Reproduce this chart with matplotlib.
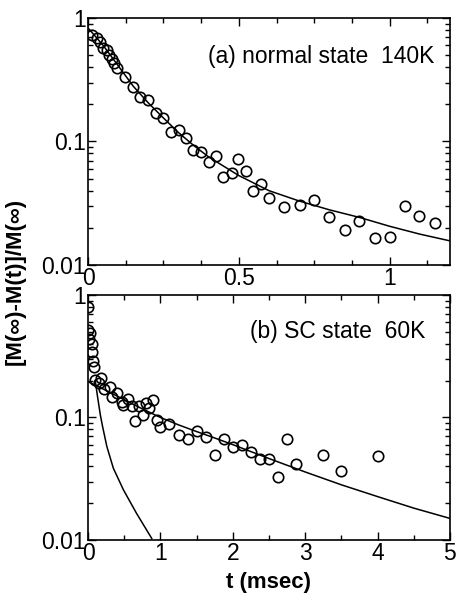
import matplotlib
matplotlib.use("Agg")
import matplotlib.pyplot as plt
from matplotlib.ticker import FixedLocator, MultipleLocator, LogLocator, NullFormatter

plt.rcParams["font.family"] = ["Liberation Sans", "DejaVu Sans"]

# (a) normal state 140K : data points
t_a = [0.012, 0.031, 0.040, 0.049, 0.062, 0.070, 0.080, 0.086, 0.095, 0.123,
       0.148, 0.172, 0.200, 0.225, 0.249, 0.275, 0.301, 0.324, 0.349, 0.373,
       0.400, 0.424, 0.448, 0.476, 0.498, 0.525, 0.547, 0.575, 0.600, 0.649,
       0.702, 0.749, 0.799, 0.851, 0.898, 0.950, 1.000, 1.050, 1.099, 1.149]
m_a = [0.729, 0.686, 0.637, 0.570, 0.552, 0.497, 0.467, 0.431, 0.393, 0.332,
       0.276, 0.229, 0.215, 0.170, 0.155, 0.120, 0.123, 0.106, 0.085, 0.082,
       0.0686, 0.0761, 0.0519, 0.0552, 0.0716, 0.0576, 0.0397, 0.0456, 0.0351, 0.0294,
       0.0305, 0.0336, 0.0247, 0.0193, 0.0228, 0.0166, 0.0169, 0.0301, 0.0250, 0.0221]

# (a) fit curve
fit_t_a = [0, 0.05, 0.1, 0.15, 0.2, 0.25, 0.3, 0.35, 0.4, 0.5, 0.6, 0.7, 0.8,
           0.9, 1.0, 1.1, 1.2]
fit_m_a = [0.83, 0.60, 0.41, 0.28, 0.205, 0.155, 0.118, 0.093, 0.075, 0.053,
           0.040, 0.033, 0.028, 0.0243, 0.0206, 0.0178, 0.0157]

# (b) SC state 60K : data points
t_b = [0.0, 0.005, 0.018, 0.028, 0.05, 0.06, 0.073, 0.087, 0.097, 0.152,
       0.18, 0.221, 0.30, 0.33, 0.405, 0.465, 0.488, 0.548, 0.603, 0.649,
       0.709, 0.755, 0.801, 0.847, 0.902, 0.949, 1.0, 1.125, 1.25, 1.375,
       1.5, 1.625, 1.75, 1.875, 2.0, 2.125, 2.25, 2.375, 2.5, 2.625,
       2.75, 2.875, 3.25, 3.5, 4.0]
m_b = [0.80, 0.52, 0.44, 0.49, 0.40, 0.34, 0.29, 0.257, 0.202, 0.19,
       0.21, 0.170, 0.176, 0.148, 0.157, 0.134, 0.126, 0.142, 0.124, 0.093,
       0.124, 0.105, 0.131, 0.119, 0.139, 0.095, 0.084, 0.088, 0.072, 0.067,
       0.078, 0.069, 0.049, 0.067, 0.057, 0.060, 0.052, 0.0456, 0.0456, 0.0325,
       0.067, 0.0417, 0.049, 0.0368, 0.0488]

# (b) slow component fit
slow_t = [0, 0.25, 0.5, 0.75, 1.0, 1.25, 1.5, 1.75, 2.0, 2.5, 3.0, 3.5, 4.0, 4.5, 5.0]
slow_m = [0.196, 0.166, 0.1396, 0.1175, 0.100, 0.087, 0.0767, 0.068, 0.060, 0.0462,
          0.0359, 0.0282, 0.0226, 0.0182, 0.0150]

# (b) fast component fit
fast_t = [0.1, 0.13, 0.17, 0.2, 0.26, 0.35, 0.49, 0.67, 0.88]
fast_m = [0.20, 0.15, 0.105, 0.085, 0.058, 0.0385, 0.0256, 0.0165, 0.0103]

FS = 16.5


def style_axis(ax, xmax, xmajor, xminor, xlabels):
    ax.set_yscale("log")
    ax.set_ylim(0.01, 1)
    ax.set_xlim(0, xmax)
    ax.xaxis.set_major_locator(FixedLocator(xmajor))
    ax.set_xticklabels(xlabels)
    ax.xaxis.set_minor_locator(MultipleLocator(xminor))
    ax.yaxis.set_major_locator(FixedLocator([0.01, 0.1, 1]))
    ax.set_yticklabels(["0.01", "0.1", "1"])
    ax.yaxis.set_minor_locator(LogLocator(base=10, subs=range(2, 10)))
    ax.yaxis.set_minor_formatter(NullFormatter())
    ax.tick_params(which="both", direction="in", top=True, right=True,
                   labelsize=FS, width=1.0)
    ax.tick_params(which="major", length=6, pad=1.5)
    ax.tick_params(which="minor", length=3.5)
    for s in ax.spines.values():
        s.set_linewidth(1.2)


fig = plt.figure(figsize=(4.57, 5.97), dpi=100)
ax1 = fig.add_axes([0.1926, 0.556, 0.792, 0.414])
ax2 = fig.add_axes([0.1926, 0.0955, 0.792, 0.4105])

mk = dict(marker="o", linestyle="none", markersize=7.5, markerfacecolor="none",
          markeredgecolor="black", markeredgewidth=1.2)

ax1.plot(fit_t_a, fit_m_a, color="black", linewidth=1.1)
ax1.plot(t_a, m_a, **mk)
style_axis(ax1, 1.2, [0, 0.5, 1], 0.125, ["0", "0.5", "1"])
ax1.text(0.958, 0.842, "(a) normal state  140K", transform=ax1.transAxes,
         ha="right", va="center", fontsize=FS)

ax2.plot(slow_t, slow_m, color="black", linewidth=1.1)
ax2.plot(fast_t, fast_m, color="black", linewidth=1.1)
ax2.plot(t_b, m_b, **mk)
style_axis(ax2, 5, [0, 1, 2, 3, 4, 5], 0.5, ["0", "1", "2", "3", "4", "5"])
ax2.text(0.931, 0.849, "(b) SC state  60K", transform=ax2.transAxes,
         ha="right", va="center", fontsize=FS)
ax2.set_xlabel("t (msec)", fontsize=16, fontweight="bold", labelpad=5)

fig.text(0.033, 0.529, "[M(\u221e)-M(t)]/M(\u221e)", rotation=90, ha="center",
         va="center", fontsize=16, fontweight="bold")

fig.savefig("out.png", dpi=100)
